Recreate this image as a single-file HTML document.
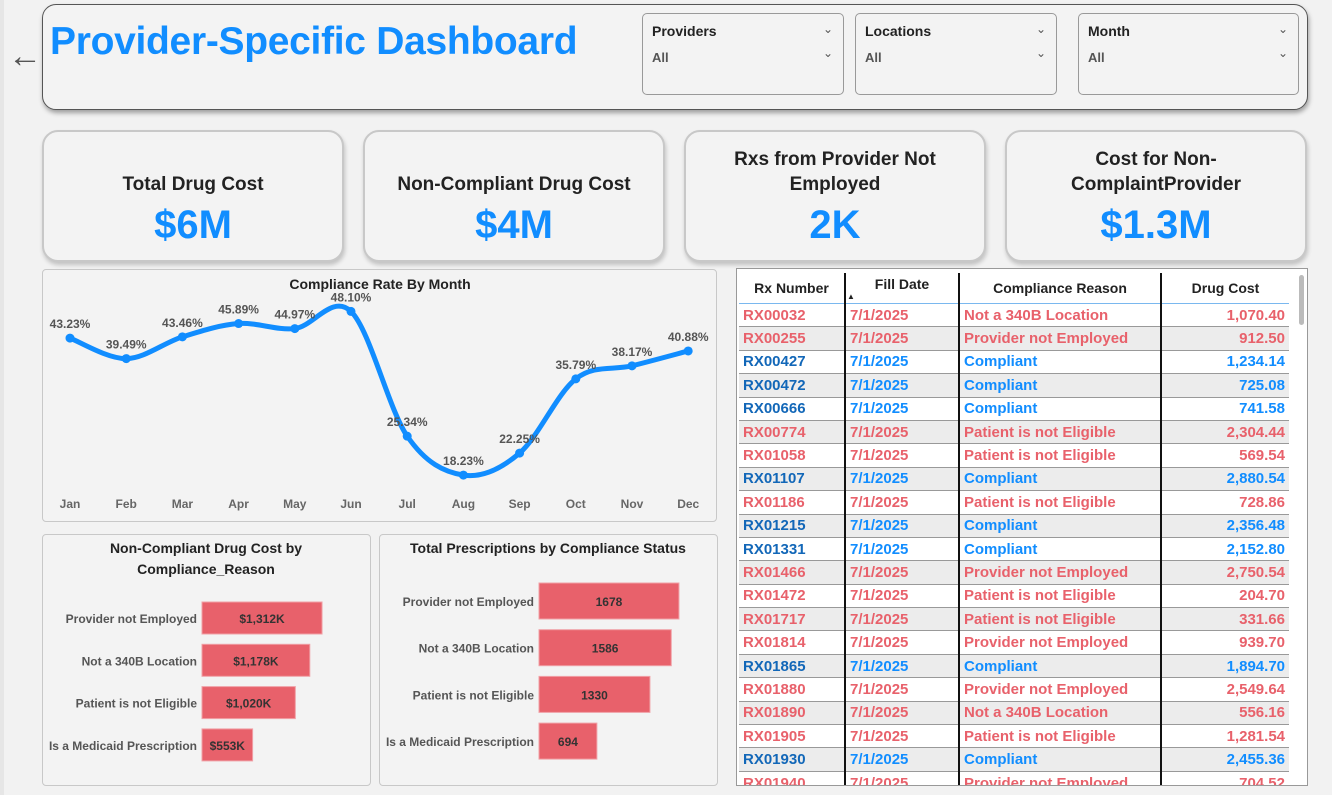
<!DOCTYPE html>
<html><head><meta charset="utf-8">
<style>
body{margin:0;width:1332px;height:795px;background:#f2f2f2;font-family:"Liberation Sans",sans-serif;position:relative;overflow:hidden}
.abs{position:absolute}
.card{position:absolute;border:2px solid #c8c8c8;border-radius:16px;background:#f3f3f3;box-shadow:1px 3px 4px rgba(0,0,0,.2);text-align:center}
.card .t{font-size:19px;font-weight:bold;color:#222;line-height:25px}
.card .v{font-size:40px;font-weight:bold;color:#118dff;margin-top:6px}
.slicer{position:absolute;top:13px;width:200px;height:80px;border:1px solid #999;border-radius:5px;background:#f3f3f3}
.slicer .l{position:absolute;left:9px;top:9px;font-size:14px;font-weight:bold;color:#222}
.slicer .a{position:absolute;left:9px;top:36px;font-size:13px;font-weight:bold;color:#555}
.slicer .c1,.slicer .c2{position:absolute;right:10px;font-size:12px;color:#555}
.panel{position:absolute;border:1px solid #c8c8c8;border-radius:4px;background:#f3f3f3}
table{border-collapse:collapse;font-size:15px;font-weight:bold;table-layout:fixed}
td{height:22.4px;padding:0 4px;border-bottom:1.5px solid #999;white-space:nowrap;overflow:hidden}
</style></head><body>
<div class="abs" style="left:0;top:0;width:4px;height:795px;background:#e6e6e6"></div>
<div class="abs" style="left:8px;top:36px;font-size:34px;color:#555;line-height:40px">&#8592;</div>
<div class="abs" style="left:42px;top:4px;width:1264px;height:104px;border:1px solid #555;border-radius:14px;box-shadow:1px 3px 5px rgba(0,0,0,.35);background:#f3f3f3"></div>
<div class="abs" style="left:50px;top:20px;font-size:39px;font-weight:bold;color:#118dff;letter-spacing:-0.3px">Provider-Specific Dashboard</div>
<div class="slicer" style="left:642px"><span class="l">Providers</span><span class="a">All</span><span class="c1" style="top:8px">&#8964;</span><span class="c2" style="top:32px">&#8964;</span></div>
<div class="slicer" style="left:855px"><span class="l">Locations</span><span class="a">All</span><span class="c1" style="top:8px">&#8964;</span><span class="c2" style="top:32px">&#8964;</span></div>
<div class="slicer" style="left:1078px;width:219px"><span class="l">Month</span><span class="a">All</span><span class="c1" style="top:8px">&#8964;</span><span class="c2" style="top:32px">&#8964;</span></div>

<div class="card" style="left:42px;top:130px;width:298px;height:128px"><div class="t" style="margin-top:40px">Total Drug Cost</div><div class="v">$6M</div></div>
<div class="card" style="left:363px;top:130px;width:298px;height:128px"><div class="t" style="margin-top:40px">Non-Compliant Drug Cost</div><div class="v">$4M</div></div>
<div class="card" style="left:684px;top:130px;width:298px;height:128px"><div class="t" style="margin-top:15px">Rxs from Provider Not<br>Employed</div><div class="v">2K</div></div>
<div class="card" style="left:1005px;top:130px;width:298px;height:128px"><div class="t" style="margin-top:15px">Cost for Non-<br>ComplaintProvider</div><div class="v">$1.3M</div></div>

<div class="panel" style="left:42px;top:269px;width:673px;height:251px"></div>
<div class="panel" style="left:42px;top:534px;width:327px;height:250px"></div>
<div class="panel" style="left:379px;top:534px;width:337px;height:250px"></div>
<svg class="abs" style="left:0;top:0" width="736" height="795" id="charts" font-family="Liberation Sans, sans-serif">
<text x="380" y="289" text-anchor="middle" font-size="14" font-weight="bold" fill="#222">Compliance Rate By Month</text>
<text x="206" y="553" text-anchor="middle" font-size="14" font-weight="bold" fill="#222">Non-Compliant Drug Cost by</text>
<text x="206" y="574" text-anchor="middle" font-size="14" font-weight="bold" fill="#222">Compliance_Reason</text>
<text x="548" y="553" text-anchor="middle" font-size="14" font-weight="bold" fill="#222">Total Prescriptions by Compliance Status</text>
<g id="lineg"></g><g id="bar1"></g><g id="bar2"></g>
</svg>

<div class="abs" style="left:736px;top:268px;width:570px;height:516px;border:1px solid #999;background:#fff;overflow:hidden">
<div class="abs" style="left:562px;top:6px;width:5px;height:50px;background:#bbb;border-radius:3px"></div>
<table style="position:absolute;left:2px;top:4px;width:550px">
<colgroup><col style="width:106px"><col style="width:114px"><col style="width:202px"><col></colgroup>
<thead><tr style="font-size:14px;color:#222">
<th style="height:28px;border-bottom:1.5px solid #7ab8ef">Rx Number</th>
<th style="border-left:2px solid #111;border-bottom:1.5px solid #7ab8ef">Fill Date<div style="font-size:8px;text-align:left">&#9650;</div></th>
<th style="border-left:2px solid #111;border-bottom:1.5px solid #7ab8ef">Compliance Reason</th>
<th style="border-left:2px solid #111;border-bottom:1.5px solid #7ab8ef">Drug Cost</th></tr></thead>
<tbody id="tb"></tbody></table></div>

<script>
const months=["Jan","Feb","Mar","Apr","May","Jun","Jul","Aug","Sep","Oct","Nov","Dec"];
const rates=[43.23,39.49,43.46,45.89,44.97,48.10,25.34,18.23,22.25,35.79,38.17,40.88];
const reasons=["Provider not Employed","Not a 340B Location","Patient is not Eligible","Is a Medicaid Prescription"];
const costK=[1312,1178,1020,553];
const rxCounts=[1678,1586,1330,694];
const rows=[["RX00032","Not a 340B Location","1,070.40"],["RX00255","Provider not Employed","912.50"],["RX00427","Compliant","1,234.14"],["RX00472","Compliant","725.08"],["RX00666","Compliant","741.58"],["RX00774","Patient is not Eligible","2,304.44"],["RX01058","Patient is not Eligible","569.54"],["RX01107","Compliant","2,880.54"],["RX01186","Patient is not Eligible","728.86"],["RX01215","Compliant","2,356.48"],["RX01331","Compliant","2,152.80"],["RX01466","Provider not Employed","2,750.54"],["RX01472","Patient is not Eligible","204.70"],["RX01717","Patient is not Eligible","331.66"],["RX01814","Provider not Employed","939.70"],["RX01865","Compliant","1,894.70"],["RX01880","Provider not Employed","2,549.64"],["RX01890","Not a 340B Location","556.16"],["RX01905","Patient is not Eligible","1,281.54"],["RX01930","Compliant","2,455.36"],["RX01940","Provider not Employed","704.52"]];
const NS="http://www.w3.org/2000/svg";
function mk(tag,at,par){const e=document.createElementNS(NS,tag);for(const k in at)e.setAttribute(k,at[k]);par.appendChild(e);return e;}
const xM=i=>70+i*56.2, yR=v=>575-5.48*v;
const lg=document.getElementById('lineg');
const pts=rates.map((v,i)=>[xM(i),yR(v)]);
let d="M"+pts[0][0]+","+pts[0][1];
for(let i=0;i<pts.length-1;i++){const p0=pts[Math.max(0,i-1)],p1=pts[i],p2=pts[i+1],p3=pts[Math.min(pts.length-1,i+2)];
d+=` C${p1[0]+(p2[0]-p0[0])/6},${p1[1]+(p2[1]-p0[1])/6} ${p2[0]-(p3[0]-p1[0])/6},${p2[1]-(p3[1]-p1[1])/6} ${p2[0]},${p2[1]}`;}
const ln=mk('path',{d:d,fill:'none',stroke:'#118dff','stroke-width':5,'stroke-linecap':'round'},lg);


rates.forEach((v,i)=>{
 const c=mk('circle',{cx:xM(i),cy:yR(v),r:4.5,fill:'#118dff'},lg);
 
 
 const t=mk('text',{x:xM(i),y:yR(v)-10,'text-anchor':'middle','font-size':12,'font-weight':'bold',fill:'#555'},lg);t.textContent=v.toFixed(2)+"%";
 
 
 const m=mk('text',{x:xM(i),y:508,'text-anchor':'middle','font-size':12,'font-weight':'bold',fill:'#666'},lg);m.textContent=months[i];
 
 
});
function bars(gid,vals,labels,x0,sc,y0,step,h,fmt){
 const g=document.getElementById(gid);
 vals.forEach((v,i)=>{const yc=y0+i*step;
  const r=mk('rect',{x:x0,y:yc-h/2,width:v*sc,height:h,fill:'#e8616b',stroke:'#f0a0a6','stroke-width':1},g);
  
  
  const t=mk('text',{x:x0+v*sc/2,y:yc+5,'text-anchor':'middle','font-size':12,'font-weight':'bold',fill:'#333'},g);t.textContent=fmt(v);
  
  
  const l=mk('text',{x:x0-5,y:yc+5,'text-anchor':'end','font-size':12,'font-weight':'bold',fill:'#555'},g);l.textContent=labels[i];
  
  
 });
}
bars('bar1',costK,reasons,202,0.0915,618,42.3,32,v=>"$"+v.toLocaleString('en-US')+"K");
bars('bar2',rxCounts,reasons,539,0.0834,601,46.7,36,v=>String(v));
const tb=document.getElementById('tb');
rows.forEach((r,i)=>{const ok=r[1]==="Compliant";const c=ok?"#118dff":"#e8616b";
 const tr=document.createElement('tr');
 
 
 tr.style.background=i%2?"#ececec":"#fff";
 tr.innerHTML=`<td style="color:${ok?'#1267b8':c}">${r[0]}</td><td style="color:${c};border-left:2px solid #111">7/1/2025</td><td style="color:${c};border-left:2px solid #111">${r[1]}</td><td style="color:${c};border-left:2px solid #111;text-align:right">${r[2]}</td>`;
 tb.appendChild(tr);});
</script>
</body></html>
